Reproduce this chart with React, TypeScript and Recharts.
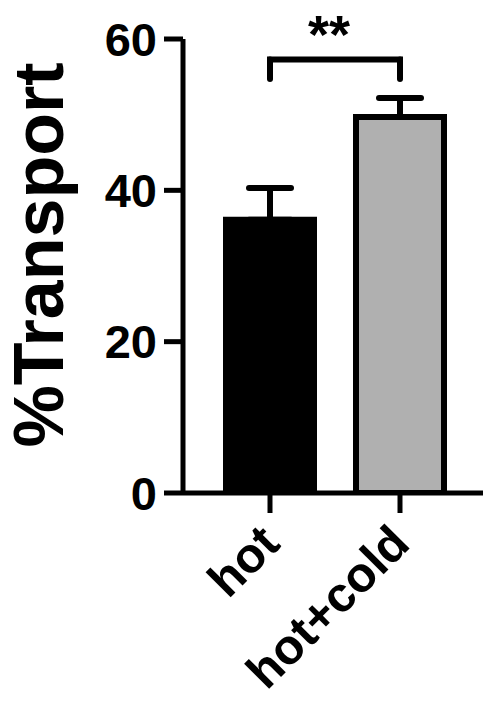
import { BarChart, Bar, XAxis, YAxis, ErrorBar, Cell, ReferenceLine } from 'recharts'

const FONT = '"Liberation Sans", Arial, Helvetica, sans-serif'

const groups = ['hot', 'hot+cold']
const transport = [36.1, 49.7]
const errUp = [4.2, 2.5]
const fills = ['#000000', '#b0b0b0']
const yTicks = [0, 20, 40, 60]
const bracketTop = 57.3
const bracketLeg = 54.7

const data = groups.map((g, i) => ({
  group: g,
  value: transport[i],
  err: [0, errUp[i]],
}))

function XTick({ x, y, payload }: any) {
  return (
    <g transform={`translate(${x + 12},${y + 33})`}>
      <text
        textAnchor="end"
        transform="rotate(-45)"
        fontSize={49}
        fontWeight={700}
        fontFamily={FONT}
        fill="#000"
      >
        {payload.value}
      </text>
    </g>
  )
}

export default function App() {
  return (
    <div style={{ position: 'absolute', left: 0, top: 0, background: '#fff' }}>
      <BarChart
        width={483}
        height={702}
        data={data}
        margin={{ top: 39, right: 0, bottom: 0, left: 0 }}
      >
        <XAxis
          dataKey="group"
          height={209}
          padding={{ left: 22, right: 18 }}
          axisLine={{ stroke: '#000', strokeWidth: 5 }}
          tickLine={{ stroke: '#000', strokeWidth: 5 }}
          tickSize={20}
          tickMargin={0}
          tick={<XTick />}
          interval={0}
        />
        <YAxis
          width={183}
          domain={[0, 60]}
          ticks={yTicks}
          allowDataOverflow
          axisLine={{ stroke: '#000', strokeWidth: 5 }}
          tickLine={{ stroke: '#000', strokeWidth: 5 }}
          tickSize={19}
          tickMargin={7}
          tick={{ fill: '#000', fontSize: 47, fontWeight: 700, fontFamily: FONT }}
          label={{
            value: '%Transport',
            angle: -90,
            position: 'center',
            dx: -53,
            dy: -11,
            fill: '#000',
            fontSize: 70,
            fontWeight: 700,
            fontFamily: FONT,
          }}
        />
        <Bar dataKey="value" barSize={88} stroke="#000" strokeWidth={6} isAnimationActive={false}>
          {data.map((d, i) => (
            <Cell key={d.group} fill={fills[i]} />
          ))}
          <ErrorBar
            dataKey="err"
            width={21}
            stroke="#000"
            strokeWidth={6}
            strokeLinecap="round"
            isAnimationActive={false}
          />
        </Bar>
        <ReferenceLine
          segment={[{ x: groups[0], y: bracketTop }, { x: groups[1], y: bracketTop }]}
          stroke="#000"
          strokeWidth={6}
          strokeLinecap="square"
          label={{
            value: '**',
            position: 'top',
            offset: 6,
            dx: -6,
            fill: '#000',
            fontSize: 54,
            fontWeight: 700,
            fontFamily: FONT,
          }}
        />
        <ReferenceLine
          segment={[{ x: groups[0], y: bracketTop }, { x: groups[0], y: bracketLeg }]}
          stroke="#000"
          strokeWidth={6}
          strokeLinecap="round"
        />
        <ReferenceLine
          segment={[{ x: groups[1], y: bracketTop }, { x: groups[1], y: bracketLeg }]}
          stroke="#000"
          strokeWidth={6}
          strokeLinecap="round"
        />
      </BarChart>
    </div>
  )
}
